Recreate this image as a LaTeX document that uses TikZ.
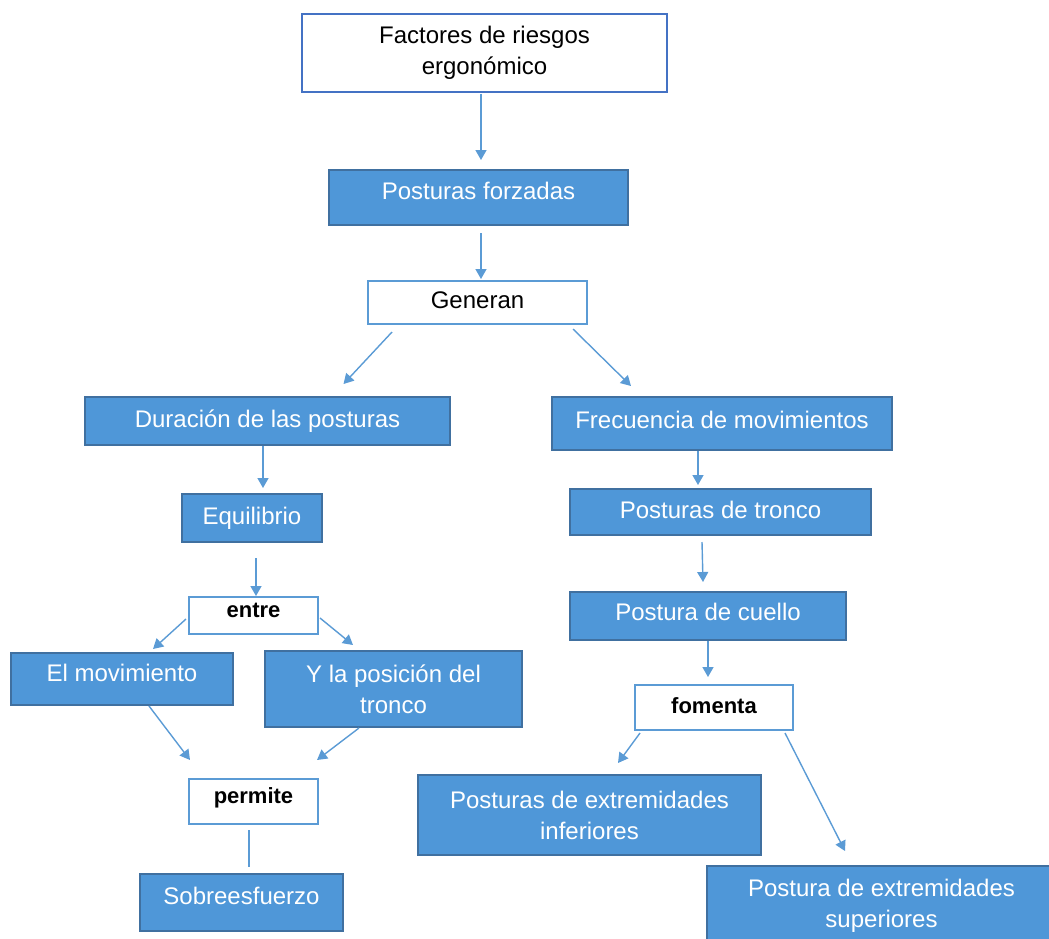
\documentclass[tikz,border=0pt]{standalone}
\usepackage{fontspec}
\setmainfont{Liberation Sans}
\usetikzlibrary{arrows.meta}

\definecolor{boxfill}{RGB}{79,151,216}
\definecolor{boxedge}{RGB}{64,112,160}
\definecolor{linkblue}{RGB}{91,155,213}
\definecolor{topedge}{RGB}{68,114,196}

\tikzset{
	bluebox/.style={draw=boxedge, fill=boxfill, text=white, line width=1.2pt, inner sep=0pt, outer sep=0pt,
		font=\fontsize{24}{31}\selectfont, align=center},
	oneline/.style={text height=17pt, text depth=5pt},
	wordbox/.style={draw=linkblue, fill=white, line width=1.5pt, inner sep=0pt, outer sep=0pt,
		font=\fontsize{22}{26}\selectfont\bfseries, text height=16pt, text depth=5pt},
	link/.style={draw=linkblue, line width=1.4pt, -{Triangle[width=11pt,length=10pt]}},
	plainlink/.style={draw=linkblue, line width=1.4pt}
}

\begin{document}
\begin{tikzpicture}[x=1pt, y=-1pt]
		\useasboundingbox (0,0) rectangle (1049,938);

		\node[draw=topedge, fill=white, line width=1.5pt, inner sep=0pt, font=\fontsize{24}{31}\selectfont, align=center,
			minimum width=365pt, minimum height=78pt] (factores) at (484.5,53) {Factores de riesgos\\ergonómico};
		\node[bluebox, oneline, text depth=13pt, minimum width=299pt, minimum height=55pt] (forzadas) at (478.5,197.5) {Posturas forzadas};
		\node[wordbox, font=\fontsize{24}{28}\selectfont, minimum width=219pt, minimum height=43pt] (generan) at (477.5,302.5) {Generan};

		\node[bluebox, oneline, minimum width=365pt, minimum height=48pt] (duracion) at (267.5,421) {Duración de las posturas};
		\node[bluebox, oneline, text depth=8pt, minimum width=340pt, minimum height=53pt] (frecuencia) at (722,423.5) {Frecuencia de movimientos};

		\node[bluebox, oneline, minimum width=140pt, minimum height=48pt] (equilibrio) at (252,518) {Equilibrio};
		\node[wordbox, text depth=13pt, minimum width=129pt, minimum height=37pt] (entre) at (253.5,615.5) {entre};
		\node[bluebox, oneline, text depth=13pt, minimum width=222pt, minimum height=52pt] (movimiento) at (122,679) {El movimiento};
		\node[bluebox, minimum width=257pt, minimum height=76pt] (posicion) at (393.5,689) {Y la posición del\\tronco};
		\node[wordbox, text depth=13pt, minimum width=129pt, minimum height=45pt] (permite) at (253.5,801.5) {permite};
		\node[bluebox, oneline, text depth=13pt, minimum width=203pt, minimum height=57pt] (sobreesfuerzo) at (241.5,902.5) {Sobreesfuerzo};

		\node[bluebox, oneline, minimum width=301pt, minimum height=46pt] (tronco) at (720.5,512) {Posturas de tronco};
		\node[bluebox, oneline, text depth=9pt, minimum width=276pt, minimum height=48pt] (cuello) at (708,616) {Postura de cuello};
		\node[wordbox, minimum width=158pt, minimum height=45pt] (fomenta) at (714,707.5) {fomenta};
		\node[bluebox, minimum width=343pt, minimum height=80pt] (inferiores) at (589.5,815) {Posturas de extremidades\\inferiores};
		\node[bluebox, minimum width=349pt, minimum height=80pt] (superiores) at (881.5,906) {Postura de extremidades\\superiores};

		\draw[link] ([xshift=-3.5pt,yshift=-1pt]factores.south) -- ([xshift=2.5pt,yshift=10pt]forzadas.north);
		\draw[link] ([xshift=2.5pt,yshift=-8pt]forzadas.south) -- ([xshift=3.5pt,yshift=2pt]generan.north);
		\draw[link] ([xshift=24pt,yshift=-8pt]generan.south west) -- ([xshift=76pt,yshift=13pt]duracion.north);
		\draw[link] ([xshift=-14pt,yshift=-5pt]generan.south east) -- ([xshift=-91pt,yshift=11pt]frecuencia.north);

		\draw[link] ([xshift=-4.5pt,yshift=-1pt]duracion.south) -- ([xshift=11pt,yshift=6pt]equilibrio.north);
		\draw[link] ([xshift=4pt,yshift=-16pt]equilibrio.south) -- ([xshift=2.5pt,yshift=1pt]entre.north);
		\draw[link] ([xshift=-3pt,yshift=-3.5pt]entre.west) -- ([xshift=31pt,yshift=4pt]movimiento.north);
		\draw[link] ([xshift=2pt,yshift=-2.5pt]entre.east) -- ([xshift=-40.5pt,yshift=6pt]posicion.north);
		\draw[link] ([xshift=27pt,yshift=-1pt]movimiento.south) -- ([xshift=-63.5pt,yshift=19pt]permite.north);
		\draw[link] ([xshift=-34.5pt,yshift=-1pt]posicion.south) -- ([xshift=63.5pt,yshift=19pt]permite.north);
		\draw[plainlink] ([xshift=-4.5pt,yshift=-6pt]permite.south) -- ([xshift=7.5pt,yshift=7pt]sobreesfuerzo.north);

		\draw[link] ([xshift=-24pt,yshift=-1pt]frecuencia.south) -- ([xshift=-22.5pt,yshift=4pt]tronco.north);
		\draw[link] ([xshift=-18.5pt,yshift=-7pt]tronco.south) -- ([xshift=-5pt,yshift=10pt]cuello.north);
		\draw[link] ([yshift=-1pt]cuello.south) -- ([xshift=-6pt,yshift=8pt]fomenta.north);
		\draw[link] ([xshift=5pt,yshift=-3pt]fomenta.south west) -- ([xshift=28.5pt,yshift=12pt]inferiores.north);
		\draw[link] ([xshift=-8pt,yshift=-3pt]fomenta.south east) -- ([xshift=-36.5pt,yshift=15pt]superiores.north);
	\end{tikzpicture}
\end{document}
